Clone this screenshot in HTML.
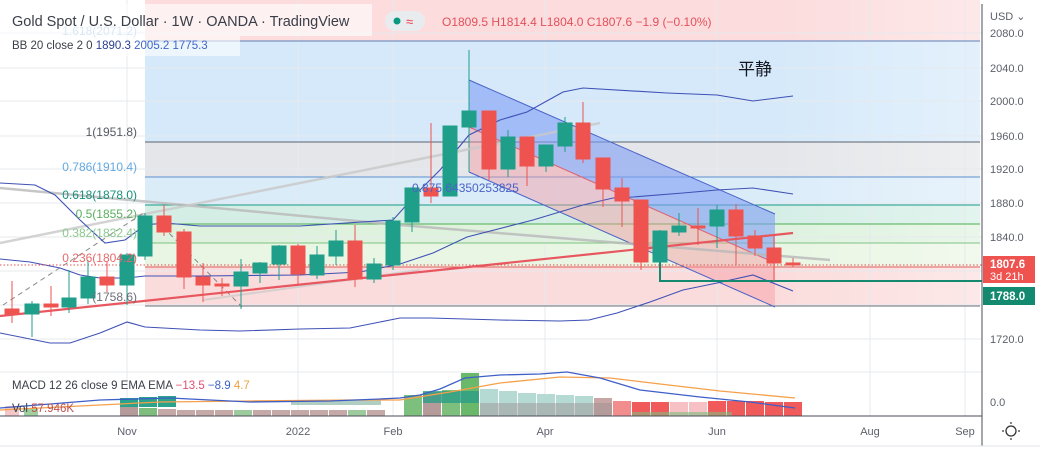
<!DOCTYPE html>
<html><head><meta charset="utf-8"><style>
html,body{margin:0;padding:0;background:#fff;}
svg{display:block;font-family:"Liberation Sans","Noto Sans CJK SC",sans-serif;}
</style></head><body>
<svg width="1040" height="454" viewBox="0 0 1040 454" xmlns="http://www.w3.org/2000/svg">
<defs>
<linearGradient id="fadeR" x1="0" x2="1" y1="0" y2="0">
<stop offset="0" stop-color="#fff" stop-opacity="0"/><stop offset="0.75" stop-color="#fff" stop-opacity="0"/><stop offset="1" stop-color="#fff" stop-opacity="0.35"/>
</linearGradient>
</defs>
<rect x="0" y="0" width="1040" height="454" fill="#fff"/>
<!-- fib fills -->
<rect x="145" y="0" width="835" height="41" fill="#fcdcdd"/>
<rect x="145" y="41" width="835" height="101" fill="#d5e9fa"/>
<rect x="145" y="142" width="835" height="35" fill="#e4e6e9"/>
<rect x="145" y="177" width="835" height="28" fill="#dbecf9"/>
<rect x="145" y="205" width="835" height="19" fill="#d4eee6"/>
<rect x="145" y="224" width="835" height="19" fill="#def2de"/>
<rect x="145" y="243" width="835" height="24" fill="#e9f6e3"/>
<rect x="145" y="267" width="835" height="39" fill="#fbdcdc"/>
<rect x="145" y="0" width="835" height="306" fill="url(#fadeR)"/>
<!-- grid -->
<g stroke="#e6e9ee" stroke-width="1">
<line x1="0" y1="33" x2="982" y2="33"/><line x1="0" y1="68" x2="982" y2="68"/><line x1="0" y1="101" x2="982" y2="101"/>
<line x1="0" y1="136" x2="982" y2="136"/><line x1="0" y1="169" x2="982" y2="169"/><line x1="0" y1="203" x2="982" y2="203"/>
<line x1="0" y1="237" x2="982" y2="237"/><line x1="0" y1="271" x2="982" y2="271"/><line x1="0" y1="305" x2="982" y2="305"/><line x1="0" y1="339" x2="982" y2="339"/>
<line x1="0" y1="372" x2="982" y2="372"/>
<line x1="127" y1="0" x2="127" y2="416"/><line x1="298" y1="0" x2="298" y2="416"/><line x1="393" y1="0" x2="393" y2="416"/>
<line x1="545" y1="0" x2="545" y2="416"/><line x1="717" y1="0" x2="717" y2="416"/><line x1="870" y1="0" x2="870" y2="416"/><line x1="965" y1="0" x2="965" y2="416"/>
</g>
<!-- fib lines -->
<g stroke-width="1">
<line x1="145" y1="41" x2="980" y2="41" stroke="#5b7fb8"/>
<line x1="145" y1="142" x2="980" y2="142" stroke="#5d6470"/>
<line x1="145" y1="177" x2="980" y2="177" stroke="#5b8fd0"/>
<line x1="145" y1="205" x2="980" y2="205" stroke="#179a84"/>
<line x1="145" y1="224" x2="980" y2="224" stroke="#4caf50"/>
<line x1="145" y1="243" x2="980" y2="243" stroke="#7fc283"/>
<line x1="145" y1="267" x2="980" y2="267" stroke="#e25a5a"/>
<line x1="145" y1="306" x2="980" y2="306" stroke="#6b6f78"/>
</g>
<!-- channel -->
<polygon points="469,80 775,214 775,263 469,127" fill="#7f9ff5" fill-opacity="0.6"/>
<polygon points="469,127 775,263 775,307 469,172" fill="#f59aa0" fill-opacity="0.45"/>
<g stroke="#4a62c8" stroke-width="1" fill="none">
<line x1="469" y1="80" x2="775" y2="214"/><line x1="469" y1="172" x2="775" y2="307"/>
<line x1="469" y1="127" x2="775" y2="263" stroke="#e06070"/>
</g>
<line x1="469" y1="50" x2="469" y2="172" stroke="#2a9d8f"/>
<!-- grey trend lines -->
<polyline points="0,188 400,225 830,260" stroke="#b8b8b8" stroke-width="2.5" fill="none" opacity="0.8"/>
<polyline points="0,243 600,123" stroke="#c8c8c8" stroke-width="2.5" fill="none" opacity="0.8"/>
<polyline points="203,300 420,270" stroke="#c8c8c8" stroke-width="2" fill="none" opacity="0.7"/>
<polyline points="3,305 145,212" stroke="#888" stroke-dasharray="5,4" fill="none"/>
<polyline points="163,227 242,307" stroke="#888" stroke-dasharray="5,4" fill="none"/>
<!-- BB -->
<g stroke="#3f51b5" stroke-width="1.1" fill="none">
<polyline points="0,183 35,185 55,195 80,220 105,243 125,240 145,225 165,223 200,226 300,226 393,220 420,190 440,170 469,135 500,120 527,112 563,92 583,88 667,93 717,95 753,101 793,96"/>
<polyline points="0,259 30,262 60,268 80,275 100,278 127,278 145,276 200,276 300,275 360,272 400,264 433,253 467,237 533,220 583,205 613,198 633,197 683,193 717,190 753,188 793,194"/>
<polyline points="0,333 50,343 70,343 100,333 127,322 145,327 200,330 240,331 300,329 350,328 380,322 400,318 430,318 500,320 560,321 589,320 617,313 650,302 683,290 717,283 753,275 793,291"/>
</g>
<!-- support line -->
<line x1="0" y1="316" x2="793" y2="233" stroke="#e8575f" stroke-width="2.2"/>
<!-- price lines -->
<line x1="0" y1="265" x2="982" y2="265" stroke="#e05050" stroke-dasharray="1.5,2"/>
<polyline points="660,262 660,281 982,281" stroke="#138a6f" stroke-width="2" fill="none"/>
<!-- candles -->
<g stroke-width="1">
<g stroke="#1f9e89" fill="#1f9e89">
<line x1="32" y1="301" x2="32" y2="337"/><rect x="25" y="304" width="14" height="10"/>
<line x1="69" y1="270" x2="69" y2="313"/><rect x="62" y="298" width="14" height="9"/>
<line x1="88" y1="260" x2="88" y2="304"/><rect x="81" y="277" width="14" height="21"/>
<line x1="127" y1="253" x2="127" y2="305"/><rect x="120" y="255" width="14" height="30"/>
<line x1="145" y1="213" x2="145" y2="260"/><rect x="138" y="216" width="14" height="40"/>
<line x1="241" y1="259" x2="241" y2="309"/><rect x="234" y="272" width="14" height="14"/>
<line x1="260" y1="262" x2="260" y2="283"/><rect x="253" y="263" width="14" height="10"/>
<line x1="279" y1="245" x2="279" y2="280"/><rect x="272" y="246" width="14" height="18"/>
<line x1="317" y1="246" x2="317" y2="279"/><rect x="310" y="255" width="14" height="20"/>
<line x1="336" y1="230" x2="336" y2="265"/><rect x="329" y="241" width="14" height="15"/>
<line x1="374" y1="258" x2="374" y2="283"/><rect x="367" y="264" width="14" height="15"/>
<line x1="393" y1="217" x2="393" y2="270"/><rect x="386" y="221" width="14" height="44"/>
<line x1="412" y1="188" x2="412" y2="232"/><rect x="405" y="188" width="14" height="34"/>
<line x1="450" y1="126" x2="450" y2="196"/><rect x="443" y="126" width="14" height="70"/>
<line x1="469" y1="52" x2="469" y2="135"/><rect x="462" y="111" width="14" height="16"/>
<line x1="508" y1="130" x2="508" y2="177"/><rect x="501" y="137" width="14" height="32"/>
<line x1="546" y1="145" x2="546" y2="172"/><rect x="539" y="145" width="14" height="21"/>
<line x1="565" y1="117" x2="565" y2="152"/><rect x="558" y="123" width="14" height="23"/>
<line x1="660" y1="230" x2="660" y2="262"/><rect x="653" y="231" width="14" height="31"/>
<line x1="679" y1="213" x2="679" y2="236"/><rect x="672" y="226" width="14" height="6"/>
<line x1="717" y1="205" x2="717" y2="248"/><rect x="710" y="210" width="14" height="16"/>
</g>
<g stroke="#ef5350" fill="#ef5350">
<line x1="12" y1="281" x2="12" y2="323"/><rect x="5" y="309" width="14" height="5"/>
<line x1="51" y1="286" x2="51" y2="316"/><rect x="44" y="304" width="14" height="3"/>
<line x1="107" y1="262" x2="107" y2="292"/><rect x="100" y="277" width="14" height="8"/>
<line x1="164" y1="205" x2="164" y2="236"/><rect x="157" y="216" width="14" height="16"/>
<line x1="184" y1="229" x2="184" y2="289"/><rect x="177" y="232" width="14" height="45"/>
<line x1="203" y1="263" x2="203" y2="302"/><rect x="196" y="277" width="14" height="8"/>
<line x1="222" y1="278" x2="222" y2="296"/><rect x="215" y="284" width="14" height="2"/>
<line x1="298" y1="244" x2="298" y2="285"/><rect x="291" y="246" width="14" height="28"/>
<line x1="355" y1="225" x2="355" y2="287"/><rect x="348" y="241" width="14" height="38"/>
<line x1="431" y1="123" x2="431" y2="203"/><rect x="424" y="188" width="14" height="8"/>
<line x1="489" y1="111" x2="489" y2="180"/><rect x="482" y="111" width="14" height="58"/>
<line x1="527" y1="137" x2="527" y2="186"/><rect x="520" y="137" width="14" height="29"/>
<line x1="583" y1="102" x2="583" y2="163"/><rect x="576" y="123" width="14" height="36"/>
<line x1="603" y1="158" x2="603" y2="207"/><rect x="596" y="158" width="14" height="31"/>
<line x1="622" y1="178" x2="622" y2="227"/><rect x="615" y="188" width="14" height="13"/>
<line x1="641" y1="200" x2="641" y2="270"/><rect x="634" y="200" width="14" height="62"/>
<line x1="698" y1="208" x2="698" y2="245"/><rect x="691" y="226" width="14" height="2"/>
<line x1="736" y1="204" x2="736" y2="265"/><rect x="729" y="210" width="14" height="26"/>
<line x1="755" y1="230" x2="755" y2="256"/><rect x="748" y="236" width="14" height="12"/>
<line x1="774" y1="236" x2="774" y2="281"/><rect x="767" y="248" width="14" height="15"/>
<line x1="793" y1="258" x2="793" y2="267"/><rect x="786" y="263" width="14" height="2"/>
</g>
</g>
<!-- fib labels -->
<g font-size="12" text-anchor="end">
<text x="137" y="35" fill="#9ec4e8">1.618(2071.2)</text>
<text x="137" y="136" fill="#555a63">1(1951.8)</text>
<text x="137" y="171" fill="#64a8e0">0.786(1910.4)</text>
<text x="137" y="199" fill="#17917c">0.618(1878.0)</text>
<text x="137" y="218" fill="#5aaf5e">0.5(1855.2)</text>
<text x="137" y="237" fill="#8ac98d">0.382(1832.4)</text>
<text x="137" y="262" fill="#e56a6a">0.236(1804.2)</text>
<text x="137" y="301" fill="#6b6f78">(1758.6)</text>
</g>
<text x="412" y="192" font-size="12" fill="#4a62c8">0.875 64350253825</text>
<text x="738" y="75" font-size="17" fill="#131722">平静</text>
<!-- header -->
<rect x="0" y="4" width="372" height="32" fill="#fff" fill-opacity="0.6"/>
<rect x="0" y="36" width="240" height="20" fill="#fff" fill-opacity="0.6"/>
<text x="12" y="26" font-size="14.5" fill="#3a3e48">Gold Spot / U.S. Dollar · 1W · OANDA · TradingView</text>
<rect x="385" y="11" width="40" height="20" rx="10" fill="#e9ecef"/>
<circle cx="397" cy="21" r="3.5" fill="#089981"/>
<text x="406" y="26" font-size="13" fill="#f23645">≈</text>
<text x="442" y="26" font-size="12" fill="#e4505a">O1809.5  H1814.4  L1804.0  C1807.6  −1.9 (−0.10%)</text>
<text x="12" y="49" font-size="11.5" fill="#3a3e48">BB 20 close 2 0 <tspan fill="#2a3f8f"> 1890.3</tspan><tspan fill="#3f66c8"> 2005.2  1775.3</tspan></text>
<!-- MACD pane -->
<g>
<rect x="5" y="406" width="14" height="10" fill="#f3c7c7"/>
<rect x="24" y="408" width="14" height="8" fill="#a0cfa0"/>
<g fill="#a8d0b6">
<rect x="120" y="398" width="18" height="9" fill="#2aa38c"/>
<rect x="139" y="397" width="18" height="10" fill="#2aa38c"/>
<rect x="158" y="396" width="18" height="11" fill="#2aa38c"/>
</g>
<g fill="#c5a9a9">
<rect x="120" y="407" width="18" height="9" fill="#b59a9a"/><rect x="139" y="408" width="18" height="8" fill="#7fbd7f"/>
<rect x="158" y="409" width="18" height="7"/><rect x="177" y="410" width="18" height="6"/><rect x="196" y="410" width="18" height="6"/>
<rect x="215" y="410" width="18" height="6"/><rect x="234" y="410" width="18" height="6" fill="#9ecb9e"/><rect x="253" y="410" width="18" height="6"/>
<rect x="272" y="410" width="18" height="6"/><rect x="291" y="410" width="18" height="6"/><rect x="310" y="410" width="18" height="6"/>
<rect x="329" y="410" width="18" height="6"/><rect x="348" y="410" width="18" height="6" fill="#9ecb9e"/><rect x="367" y="410" width="18" height="6"/>
</g>
<rect x="291" y="400" width="90" height="5" fill="#8fb9a8" opacity="0.7"/>
<rect x="404" y="395" width="18" height="21" fill="#7dbf7d"/>
<rect x="423" y="392" width="18" height="24" fill="#b59a9a"/>
<rect x="442" y="390" width="18" height="26" fill="#7dbf7d"/>
<rect x="461" y="373" width="18" height="43" fill="#6ab96a"/>
<rect x="423" y="391" width="56" height="12" fill="#2a9d86" opacity="0.8"/>
<rect x="480" y="389" width="18" height="27" fill="#b5dad4"/>
<rect x="499" y="391" width="18" height="25" fill="#b5dad4"/>
<rect x="518" y="393" width="18" height="23" fill="#b5dad4"/>
<rect x="537" y="394" width="18" height="22" fill="#b5dad4"/>
<rect x="556" y="395" width="18" height="21" fill="#b5dad4"/>
<rect x="575" y="396" width="18" height="20" fill="#b5dad4"/>
<rect x="594" y="398" width="18" height="18" fill="#c9a6a6"/>
<rect x="480" y="403" width="132" height="13" fill="#9b8f8f" opacity="0.45"/>
<rect x="613" y="401" width="18" height="15" fill="#f28d8d"/>
<rect x="632" y="402" width="18" height="14" fill="#f05a5a"/>
<rect x="651" y="402" width="18" height="14" fill="#f05a5a"/>
<rect x="670" y="402" width="18" height="14" fill="#f7c0c4"/>
<rect x="689" y="402" width="18" height="14" fill="#f7c0c4"/>
<rect x="708" y="401" width="18" height="15" fill="#f05a5a"/>
<rect x="727" y="401" width="18" height="15" fill="#f05a5a"/>
<rect x="746" y="401" width="18" height="15" fill="#f05a5a"/>
<rect x="765" y="402" width="18" height="14" fill="#f05a5a"/>
<rect x="784" y="402" width="18" height="14" fill="#f05a5a"/>
<rect x="632" y="412" width="100" height="4" fill="#7fbd7f" opacity="0.6"/>
<polyline points="0,410 100,405 160,402 250,401 350,400 400,400 450,392 500,383 560,377 610,378 660,384 720,391 795,398" stroke="#f5a04a" stroke-width="1.3" fill="none"/>
<polyline points="0,408 100,400 170,398 250,402 330,401 380,399 400,398 420,395 440,389 465,378 500,375 540,374 567,372 600,378 640,390 700,397 750,402 795,408" stroke="#3f5fc8" stroke-width="1.3" fill="none"/>
<text x="12" y="389" font-size="11.5" fill="#3a3e48">MACD 12 26 close 9 EMA EMA <tspan fill="#e05070"> −13.5</tspan><tspan fill="#3f5fc8"> −8.9</tspan><tspan fill="#f0a040"> 4.7</tspan></text>
<text x="12" y="412" font-size="11.5" fill="#3a3e48">Vol  <tspan fill="#c05050">57.946K</tspan></text>
</g>
<line x1="0" y1="416" x2="982" y2="416" stroke="#4a4e58" stroke-width="1"/>
<!-- right axis -->
<rect x="983" y="0" width="57" height="454" fill="#fff"/>
<line x1="982" y1="4" x2="982" y2="446" stroke="#4a4e58"/>
<g font-size="11" fill="#5d606b">
<text x="990" y="20">USD ⌄</text>
<text x="990" y="37">2080.0</text><text x="990" y="72">2040.0</text><text x="990" y="105">2000.0</text>
<text x="990" y="140">1960.0</text><text x="990" y="173">1920.0</text><text x="990" y="207">1880.0</text>
<text x="990" y="241">1840.0</text><text x="990" y="343">1720.0</text><text x="990" y="406">0.0</text>
</g>
<rect x="983" y="256" width="52" height="27" fill="#ef5350"/>
<text x="990" y="268" font-size="11.5" font-weight="bold" fill="#fff">1807.6</text>
<text x="990" y="280" font-size="11" fill="#fff">3d 21h</text>
<rect x="983" y="287" width="52" height="18" fill="#138a6f"/>
<text x="990" y="300" font-size="11.5" font-weight="bold" fill="#fff">1788.0</text>
<!-- time axis -->
<g font-size="11" fill="#5d606b" text-anchor="middle">
<text x="127" y="435">Nov</text><text x="298" y="435">2022</text><text x="393" y="435">Feb</text>
<text x="545" y="435">Apr</text><text x="717" y="435">Jun</text><text x="870" y="435">Aug</text><text x="965" y="435">Sep</text>
</g>
<circle cx="1011" cy="431" r="5" fill="none" stroke="#333" stroke-width="1.3"/>
<g stroke="#333" stroke-width="1.2"><line x1="1011" y1="422" x2="1011" y2="424"/><line x1="1011" y1="438" x2="1011" y2="440"/><line x1="1002" y1="431" x2="1004" y2="431"/><line x1="1018" y1="431" x2="1020" y2="431"/></g>
<line x1="0" y1="446" x2="1040" y2="446" stroke="#e0e3eb"/>
</svg>
</body></html>
